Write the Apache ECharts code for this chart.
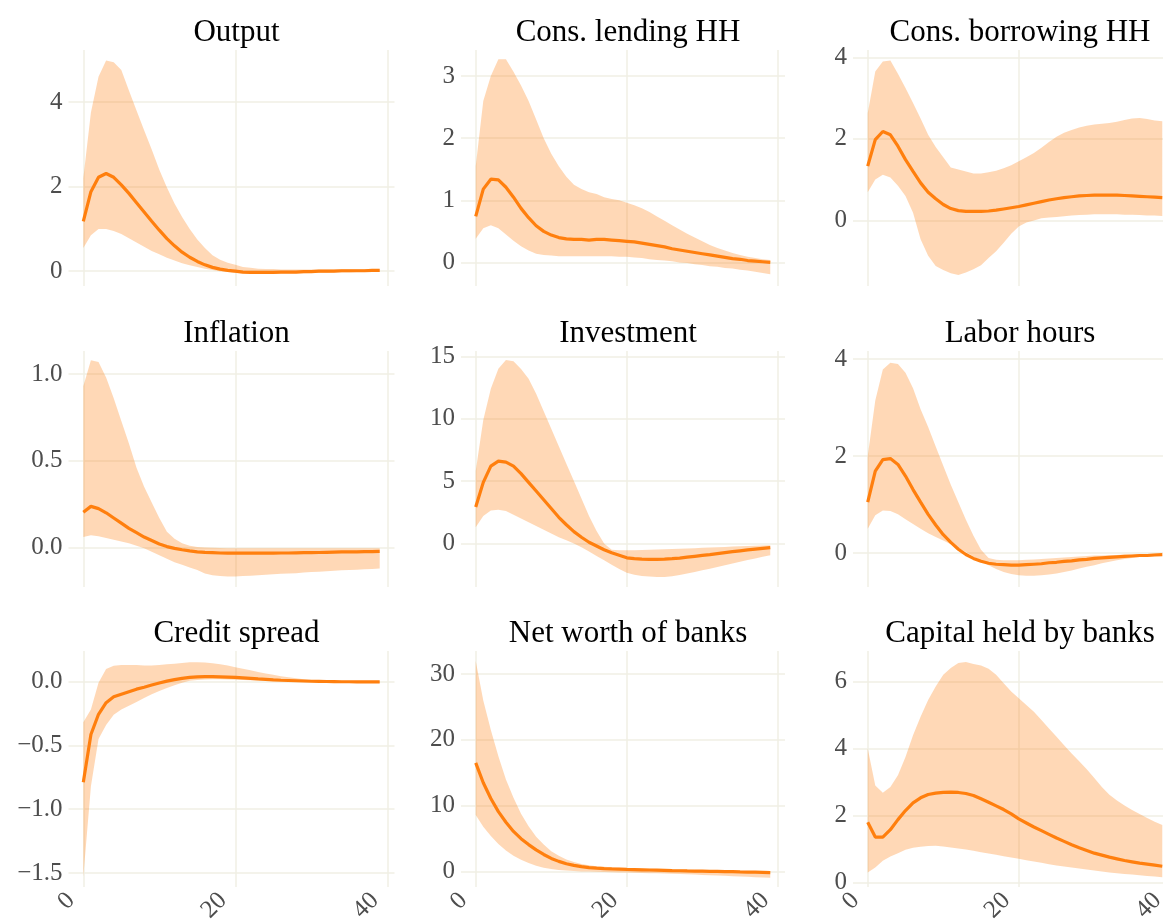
<!DOCTYPE html>
<html>
<head>
<meta charset="utf-8">
<script src="https://cdn.jsdelivr.net/npm/echarts@6/dist/echarts.min.js"></script>
<style>
  html, body { margin: 0; background: #fff; overflow: hidden; }
  #irf { width: 1190px; height: 921px; }
</style>
</head>
<body>
<div id="irf"></div>
<script>
// panel titles
var titles = ["Output", "Cons. lending HH", "Cons. borrowing HH",
              "Inflation", "Investment", "Labor hours",
              "Credit spread", "Net worth of banks", "Capital held by banks"];

// median responses and bands, horizon 0..39
var outputMid = [1.18,1.88,2.22,2.31,2.22,2.04,1.84,1.62,1.40,1.18, 0.97,0.77,0.60,0.45,0.33,0.23,0.15,0.09,0.05,0.02,
                 0.00,-0.02,-0.03,-0.03,-0.03,-0.03,-0.02,-0.02,-0.02,-0.01, -0.01,0.00,0.00,0.00,0.01,0.01,0.01,0.01,0.02,0.02];
var outputHi  = [2.20,3.75,4.60,4.98,4.94,4.76,4.27,3.80,3.33,2.88, 2.40,1.98,1.60,1.28,1.00,0.75,0.55,0.38,0.27,0.20,
                 0.15,0.10,0.08,0.06,0.05,0.05,0.04,0.04,0.04,0.04, 0.04,0.04,0.04,0.04,0.05,0.05,0.05,0.05,0.05,0.05];
var outputLo  = [0.55,0.85,1.00,1.00,0.95,0.88,0.78,0.68,0.58,0.48, 0.40,0.32,0.25,0.19,0.14,0.10,0.06,0.03,0.00,-0.02,
                 -0.04,-0.05,-0.06,-0.06,-0.06,-0.06,-0.05,-0.05,-0.05,-0.05, -0.04,-0.04,-0.04,-0.03,-0.03,-0.03,-0.02,-0.02,-0.02,-0.02];

var lendMid = [0.74,1.18,1.34,1.33,1.21,1.05,0.87,0.72,0.59,0.50, 0.44,0.40,0.38,0.37,0.37,0.36,0.37,0.37,0.36,0.35,
               0.34,0.33,0.31,0.29,0.27,0.25,0.22,0.20,0.18,0.16, 0.14,0.12,0.10,0.08,0.06,0.05,0.03,0.02,0.01,0.00];
var lendHi  = [1.55,2.60,3.00,3.27,3.27,3.07,2.85,2.60,2.30,2.00, 1.75,1.55,1.38,1.25,1.18,1.13,1.10,1.05,1.02,1.00,
               0.96,0.92,0.87,0.81,0.74,0.67,0.60,0.53,0.46,0.40, 0.34,0.28,0.23,0.19,0.15,0.12,0.09,0.07,0.05,0.04];
var lendLo  = [0.38,0.55,0.60,0.55,0.45,0.35,0.26,0.19,0.14,0.12, 0.11,0.10,0.10,0.10,0.10,0.10,0.10,0.10,0.10,0.09,
               0.09,0.08,0.07,0.05,0.04,0.03,0.02,0.00,-0.01,-0.03, -0.04,-0.06,-0.07,-0.09,-0.10,-0.12,-0.13,-0.15,-0.17,-0.19];

var borrowMid = [1.33,1.98,2.18,2.10,1.82,1.49,1.20,0.92,0.69,0.53, 0.39,0.29,0.24,0.22,0.22,0.22,0.23,0.25,0.28,0.31,
                 0.34,0.38,0.42,0.46,0.50,0.53,0.56,0.58,0.60,0.61, 0.62,0.62,0.62,0.62,0.61,0.60,0.59,0.58,0.57,0.56];
var borrowHi  = [2.63,3.65,3.90,3.92,3.60,3.25,2.88,2.50,2.10,1.80, 1.55,1.30,1.25,1.20,1.15,1.15,1.18,1.22,1.28,1.35,
                 1.45,1.55,1.65,1.78,1.92,2.05,2.15,2.22,2.28,2.32, 2.35,2.37,2.39,2.42,2.46,2.50,2.51,2.49,2.45,2.43];
var borrowLo  = [0.69,1.00,1.12,1.05,0.85,0.60,0.19,-0.46,-0.87,-1.12, -1.22,-1.30,-1.34,-1.28,-1.20,-1.10,-0.92,-0.76,-0.55,-0.33,
                 -0.15,-0.05,0.00,0.05,0.07,0.08,0.10,0.12,0.13,0.14, 0.15,0.15,0.15,0.15,0.14,0.14,0.13,0.12,0.12,0.11];

var inflMid = [0.203,0.237,0.224,0.200,0.170,0.140,0.110,0.085,0.060,0.040, 0.020,0.005,-0.005,-0.013,-0.020,-0.025,-0.028,-0.030,-0.032,-0.033,
               -0.033,-0.033,-0.033,-0.033,-0.033,-0.033,-0.032,-0.032,-0.031,-0.030, -0.030,-0.029,-0.028,-0.027,-0.026,-0.026,-0.025,-0.024,-0.024,-0.023];
var inflHi  = [0.93,1.08,1.07,0.98,0.86,0.73,0.60,0.46,0.35,0.26, 0.17,0.09,0.05,0.025,0.010,0.003,0.000,-0.002,-0.003,-0.004,
               -0.005,-0.005,-0.005,-0.005,-0.005,-0.005,-0.005,-0.005,-0.005,-0.005, -0.005,-0.005,-0.005,-0.005,-0.005,-0.005,-0.005,-0.005,-0.005,-0.005];
var inflLo  = [0.060,0.070,0.065,0.055,0.045,0.035,0.025,0.010,-0.005,-0.025, -0.045,-0.065,-0.085,-0.100,-0.115,-0.130,-0.150,-0.160,-0.165,-0.167,
               -0.167,-0.165,-0.163,-0.160,-0.157,-0.155,-0.152,-0.150,-0.148,-0.145, -0.142,-0.140,-0.137,-0.135,-0.132,-0.130,-0.128,-0.126,-0.124,-0.122];

var invMid = [2.93,4.90,6.20,6.60,6.52,6.20,5.60,4.90,4.20,3.50, 2.80,2.10,1.50,0.95,0.50,0.10,-0.20,-0.50,-0.75,-0.95,
              -1.15,-1.22,-1.26,-1.28,-1.28,-1.26,-1.22,-1.17,-1.10,-1.03, -0.96,-0.89,-0.81,-0.73,-0.66,-0.59,-0.52,-0.45,-0.39,-0.33];
var invHi  = [5.80,9.90,12.40,14.00,14.70,14.60,13.98,13.20,12.00,10.60, 9.20,7.80,6.40,5.00,3.60,2.20,1.00,0.00,-0.50,-0.55,
              -0.55,-0.55,-0.53,-0.50,-0.48,-0.46,-0.44,-0.42,-0.40,-0.38, -0.35,-0.33,-0.30,-0.28,-0.25,-0.22,-0.20,-0.18,-0.16,-0.15];
var invLo  = [1.30,2.20,2.65,2.70,2.60,2.30,2.00,1.70,1.40,1.10, 0.80,0.50,0.25,0.00,-0.30,-0.65,-1.00,-1.35,-1.70,-2.05,
              -2.35,-2.50,-2.60,-2.65,-2.68,-2.68,-2.62,-2.52,-2.40,-2.28, -2.15,-2.02,-1.88,-1.75,-1.60,-1.47,-1.33,-1.20,-1.07,-0.95];

var laborMid = [1.05,1.69,1.93,1.95,1.83,1.59,1.31,1.05,0.80,0.58, 0.38,0.22,0.08,-0.03,-0.11,-0.17,-0.21,-0.23,-0.24,-0.25,
                -0.25,-0.24,-0.23,-0.22,-0.20,-0.19,-0.17,-0.16,-0.14,-0.13, -0.11,-0.10,-0.09,-0.08,-0.07,-0.06,-0.05,-0.05,-0.04,-0.03];
var laborHi  = [2.00,3.15,3.79,3.93,3.90,3.72,3.40,2.97,2.60,2.20, 1.80,1.41,1.05,0.69,0.36,0.07,-0.10,-0.14,-0.15,-0.15,
                -0.15,-0.14,-0.13,-0.12,-0.11,-0.10,-0.09,-0.08,-0.07,-0.06, -0.05,-0.05,-0.04,-0.04,-0.03,-0.03,-0.02,-0.02,-0.01,-0.01];
var laborLo  = [0.50,0.78,0.88,0.87,0.80,0.70,0.60,0.50,0.41,0.33, 0.26,0.18,0.10,0.02,-0.07,-0.16,-0.25,-0.33,-0.39,-0.43,
                -0.46,-0.47,-0.47,-0.46,-0.44,-0.42,-0.39,-0.36,-0.32,-0.28, -0.25,-0.21,-0.18,-0.15,-0.12,-0.10,-0.08,-0.07,-0.06,-0.05];

var spreadMid = [-0.790,-0.415,-0.257,-0.166,-0.120,-0.100,-0.080,-0.060,-0.045,-0.028, -0.012,0.003,0.015,0.025,0.032,0.036,0.038,0.038,0.037,0.035,
                 0.032,0.028,0.024,0.020,0.017,0.013,0.010,0.008,0.006,0.004, 0.002,0.001,0.000,-0.001,-0.002,-0.002,-0.003,-0.003,-0.003,-0.003];
var spreadHi  = [-0.320,-0.220,-0.010,0.097,0.124,0.130,0.130,0.130,0.125,0.125, 0.130,0.135,0.140,0.145,0.150,0.150,0.148,0.143,0.135,0.125,
                 0.112,0.100,0.088,0.075,0.063,0.052,0.042,0.033,0.025,0.018, 0.012,0.008,0.005,0.003,0.002,0.001,0.000,0.000,0.000,0.000];
var spreadLo  = [-1.530,-0.820,-0.450,-0.340,-0.260,-0.220,-0.190,-0.160,-0.130,-0.100, -0.075,-0.050,-0.030,-0.010,0.005,0.012,0.015,0.017,0.017,0.016,
                 0.014,0.012,0.010,0.008,0.006,0.004,0.003,0.001,0.000,-0.001, -0.003,-0.004,-0.005,-0.006,-0.007,-0.008,-0.008,-0.009,-0.009,-0.010];

var netMid = [16.5,13.5,11.1,9.1,7.5,6.1,5.0,4.1,3.3,2.6, 2.0,1.55,1.2,0.95,0.75,0.6,0.52,0.46,0.41,0.37,
              0.33,0.30,0.27,0.24,0.21,0.18,0.15,0.13,0.10,0.08, 0.06,0.04,0.02,0.00,-0.02,-0.05,-0.07,-0.09,-0.12,-0.15];
var netHi  = [32.0,26.0,21.5,17.5,14.0,11.2,8.8,6.9,5.3,4.1, 3.1,2.4,1.85,1.45,1.15,0.95,0.82,0.72,0.65,0.60,
              0.55,0.50,0.46,0.42,0.39,0.36,0.33,0.30,0.27,0.24, 0.21,0.19,0.16,0.14,0.12,0.10,0.08,0.06,0.05,0.04];
var netLo  = [8.6,6.8,5.4,4.2,3.2,2.4,1.8,1.3,0.9,0.6, 0.4,0.25,0.15,0.08,0.03,0.00,-0.03,-0.06,-0.09,-0.12,
              -0.15,-0.18,-0.21,-0.24,-0.27,-0.30,-0.34,-0.38,-0.42,-0.46, -0.50,-0.55,-0.60,-0.65,-0.70,-0.75,-0.80,-0.85,-0.90,-0.95];

var capMid = [1.80,1.36,1.36,1.58,1.88,2.15,2.38,2.53,2.63,2.67, 2.69,2.70,2.69,2.66,2.60,2.50,2.40,2.29,2.18,2.05,
              1.90,1.78,1.66,1.55,1.44,1.33,1.23,1.13,1.04,0.96, 0.88,0.82,0.76,0.71,0.66,0.62,0.58,0.55,0.52,0.49];
var capHi  = [4.00,2.90,2.68,2.85,3.20,3.75,4.40,4.95,5.45,5.85, 6.20,6.40,6.55,6.58,6.52,6.48,6.38,6.20,5.95,5.70,
              5.50,5.30,5.10,4.85,4.60,4.35,4.10,3.85,3.62,3.38, 3.12,2.85,2.62,2.45,2.30,2.17,2.05,1.93,1.82,1.72];
var capLo  = [0.30,0.45,0.65,0.78,0.88,0.98,1.04,1.07,1.09,1.10, 1.08,1.05,1.02,0.99,0.95,0.91,0.87,0.83,0.79,0.75,
              0.71,0.67,0.63,0.59,0.55,0.51,0.48,0.45,0.42,0.39, 0.36,0.33,0.30,0.28,0.26,0.24,0.22,0.20,0.18,0.16];

var mids = [outputMid, lendMid, borrowMid, inflMid, invMid, laborMid, spreadMid, netMid, capMid];
var his  = [outputHi, lendHi, borrowHi, inflHi, invHi, laborHi, spreadHi, netHi, capHi];
var los  = [outputLo, lendLo, borrowLo, inflLo, invLo, laborLo, spreadLo, netLo, capLo];

// tick labels
var xTicks = [0, 20, 40];
var yTicks = [[0,2,4], [0,1,2,3], [0,2,4],
              [0,0.5,1], [0,5,10,15], [0,2,4],
              [-1.5,-1,-0.5,0], [0,10,20,30], [0,2,4,6]];
var yDecimals = [0,0,0, 1,0,0, 1,0,0];

// layout (right column runs past the page edge, as in the original figure)
var colLeft = [68.5, 461, 853];
var colWidth = [326, 324, 324];
var rowTop = [50, 351, 651];
var panelHeight = 236;
var titleTop = [12, 313, 613];
var yRange = [[-0.35,5.23], [-0.38,3.42], [-1.61,4.18],
              [-0.228,1.133], [-3.49,15.43], [-0.70,4.17],
              [-1.61,0.239], [-2.34,33.5], [-0.13,6.91]];

var FONT = "Liberation Serif";
var ORANGE = "#ff7f0e";
var GRIDCOL = "#f1efe4";

// band polygon: upper edge left to right, lower edge back
function bandRenderer(lo, hi) {
  return function (params, api) {
    if (params.dataIndex !== 0) return;
    var pts = [];
    for (var t = 0; t < hi.length; t++) pts.push(api.coord([t, hi[t]]));
    for (var t2 = lo.length - 1; t2 >= 0; t2--) pts.push(api.coord([t2, lo[t2]]));
    return {
      type: "polygon",
      shape: { points: pts },
      style: { fill: "rgba(255,127,14,0.3)" }
    };
  };
}

var grids = [], xAxes = [], yAxes = [], series = [], titleList = [];

for (var i = 0; i < 9; i++) {
  var r = Math.floor(i / 3), c = i % 3;
  grids.push({
    left: colLeft[c], top: rowTop[r], width: colWidth[c], height: panelHeight,
    containLabel: false, outerBoundsMode: "none"
  });
  titleList.push({
    text: titles[i],
    left: colLeft[c] + colWidth[c] / 2,
    top: titleTop[r],
    textAlign: "center",
    textStyle: { fontFamily: FONT, fontSize: 31, fontWeight: "normal", color: "#000" }
  });
  xAxes.push({
    type: "value", gridIndex: i, min: -1.95, max: 40.95,
    axisLine: { show: false },
    axisTick: { show: false, customValues: xTicks },
    axisLabel: {
      show: r === 2, customValues: xTicks, rotate: 45, margin: 15,
      verticalAlign: "bottom", padding: [0, 5, 0, 0],
      fontFamily: FONT, fontSize: 25, color: "#4d4d4d"
    },
    splitLine: { show: true, lineStyle: { color: GRIDCOL, width: 1.5 } }
  });
  (function (dec) {
    yAxes.push({
      type: "value", gridIndex: i, min: yRange[i][0], max: yRange[i][1],
      axisLine: { show: false },
      axisTick: { show: false, customValues: yTicks[i] },
      axisLabel: {
        customValues: yTicks[i], margin: 6,
        fontFamily: FONT, fontSize: 25, color: "#4d4d4d",
        formatter: function (v) { return Number(v).toFixed(dec).replace("-", "\u2212"); }
      },
      splitLine: { show: true, lineStyle: { color: GRIDCOL, width: 1.5 } }
    });
  })(yDecimals[i]);

  var lo = los[i], hi = his[i], mid = mids[i];
  series.push({
    type: "custom", xAxisIndex: i, yAxisIndex: i, silent: true, z: 2,
    renderItem: bandRenderer(lo, hi),
    encode: { x: 0, y: [1, 2] },
    data: lo.map(function (v, t) { return [t, v, hi[t]]; })
  });
  series.push({
    type: "line", xAxisIndex: i, yAxisIndex: i, symbol: "none", z: 5,
    lineStyle: { color: ORANGE, width: 3.2 },
    data: mid.map(function (v, t) { return [t, v]; })
  });
}

var chart = echarts.init(document.getElementById("irf"));
chart.setOption({
  animation: false,
  backgroundColor: "#fff",
  title: titleList,
  grid: grids,
  xAxis: xAxes,
  yAxis: yAxes,
  series: series
});
</script>
</body>
</html>
